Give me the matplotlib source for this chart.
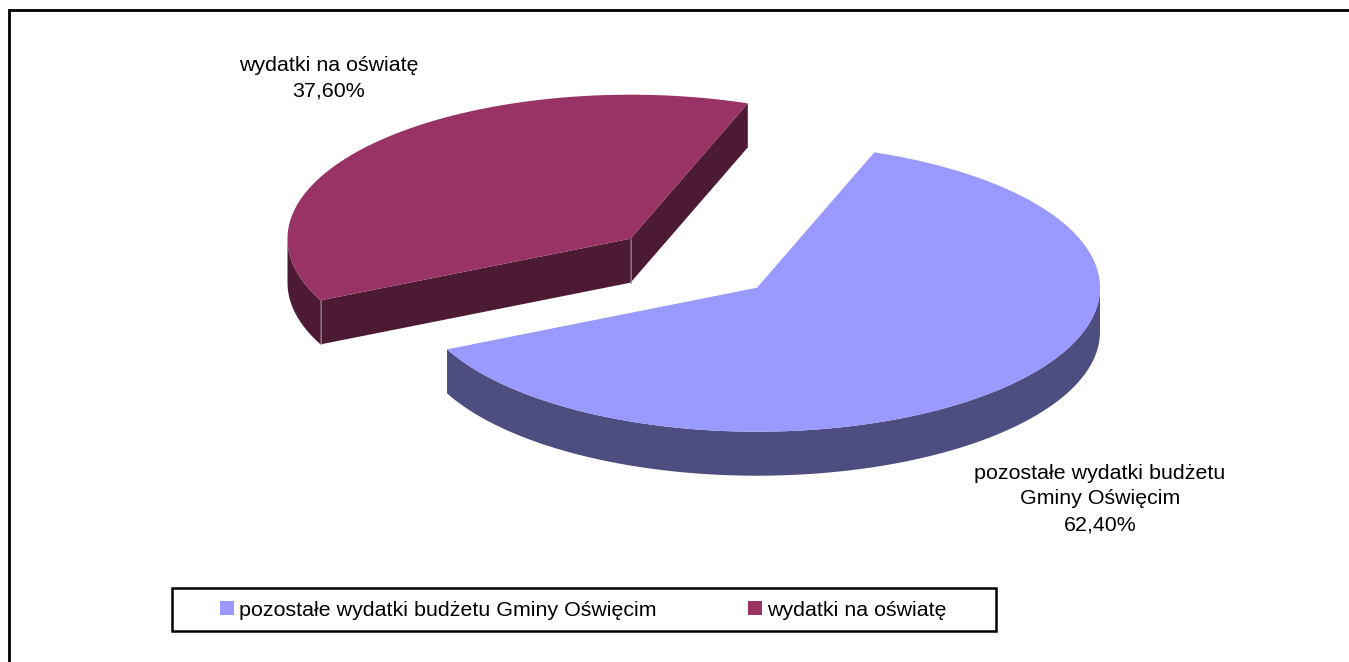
import numpy as np
import matplotlib
matplotlib.use("Agg")
import matplotlib.pyplot as plt
from matplotlib.patches import Polygon, Rectangle

categories = ["pozostałe wydatki budżetu Gminy Oświęcim", "wydatki na oświatę"]
data_labels = ["pozostałe wydatki budżetu\nGminy Oświęcim\n62,40%", "wydatki na oświatę\n37,60%"]
values = [62.4, 37.6]
top_colors = ["#9999FF", "#993366"]
side_colors = ["#4D4D80", "#4D1A33"]

plt.rcParams["font.family"] = ["Liberation Sans", "DejaVu Sans"]
W, H = 1349, 662
fig = plt.figure(figsize=(W / 100, H / 100), dpi=100)
ax = fig.add_axes([0, 0, 1, 1])
ax.set_xlim(0, W)
ax.set_ylim(H, 0)
ax.axis("off")

RX, RY, DEPTH = 343, 144, 44
START = 70.0
centers = [(757, 287.7), (630.5, 238.7)]


def arc(c, a0, a1, dy=0, n=200):
    t = np.radians(np.linspace(a0, a1, n))
    return np.column_stack([c[0] + RX * np.cos(t), c[1] - RY * np.sin(t) + dy])


angles = np.cumsum([0] + [v / sum(values) * 360 for v in values])
spans = [(START - angles[i], START - angles[i + 1]) for i in range(2)]


def poly(pts, fc, ec="none", z=2):
    ax.add_patch(Polygon(pts, closed=True, facecolor=fc, edgecolor=ec, linewidth=0.6, zorder=z))


# slice 2 (exploded, behind)
c = centers[1]
a0, a1 = spans[1]
p_end_left = arc(c, a0, a0, n=1)[0]
p_end_back = arc(c, a1, a1, n=1)[0]
cc = np.array(c, float)
d = np.array([0, DEPTH])
left = arc(c, a0, -180)
poly(np.vstack([left, (left + d)[::-1]]), side_colors[1])
poly([cc, p_end_left, p_end_left + d, cc + d], side_colors[1])
poly([cc, p_end_back, p_end_back + d, cc + d], side_colors[1])
ax.plot([p_end_left[0]] * 2, [p_end_left[1], p_end_left[1] + DEPTH], color="#B0708F", lw=0.6, zorder=3)
ax.plot([cc[0]] * 2, [cc[1], cc[1] + DEPTH], color="#B0708F", lw=0.6, zorder=3)
poly(np.vstack([[cc], arc(c, a0, a1)]), top_colors[1], z=4)

# slice 1
c = centers[0]
a0, a1 = spans[0]
front = arc(c, a1, 0)
poly(np.vstack([front, (front + d)[::-1]]), side_colors[0], z=5)
poly(np.vstack([[c], arc(c, a0, a1)]), top_colors[0], z=6)

fs = 15.4
ls = 1.46
ax.text(329, 78, data_labels[1], ha="center", va="center", fontsize=fs, linespacing=ls, color="black")
ax.text(1100, 499, data_labels[0], ha="center", va="center", fontsize=fs, linespacing=ls, color="black")

# chart frame (right and bottom are cut off)
ax.plot([9, 9, W + 5], [H + 5, 9.5, 9.5], color="black", lw=2, solid_joinstyle="miter", zorder=1)

# legend
ax.add_patch(Rectangle((172, 588), 823.5, 43, facecolor="white", edgecolor="black", linewidth=1.8, zorder=7))
for mx, tx, col, lab in zip([220, 748], [239, 767], top_colors, categories):
    ax.add_patch(Rectangle((mx, 601), 14, 14, facecolor=col, edgecolor="none", zorder=8))
    ax.text(tx, 610, lab, ha="left", va="center", fontsize=fs, color="black", zorder=8)

fig.savefig("out.png", dpi=100, facecolor="white")
